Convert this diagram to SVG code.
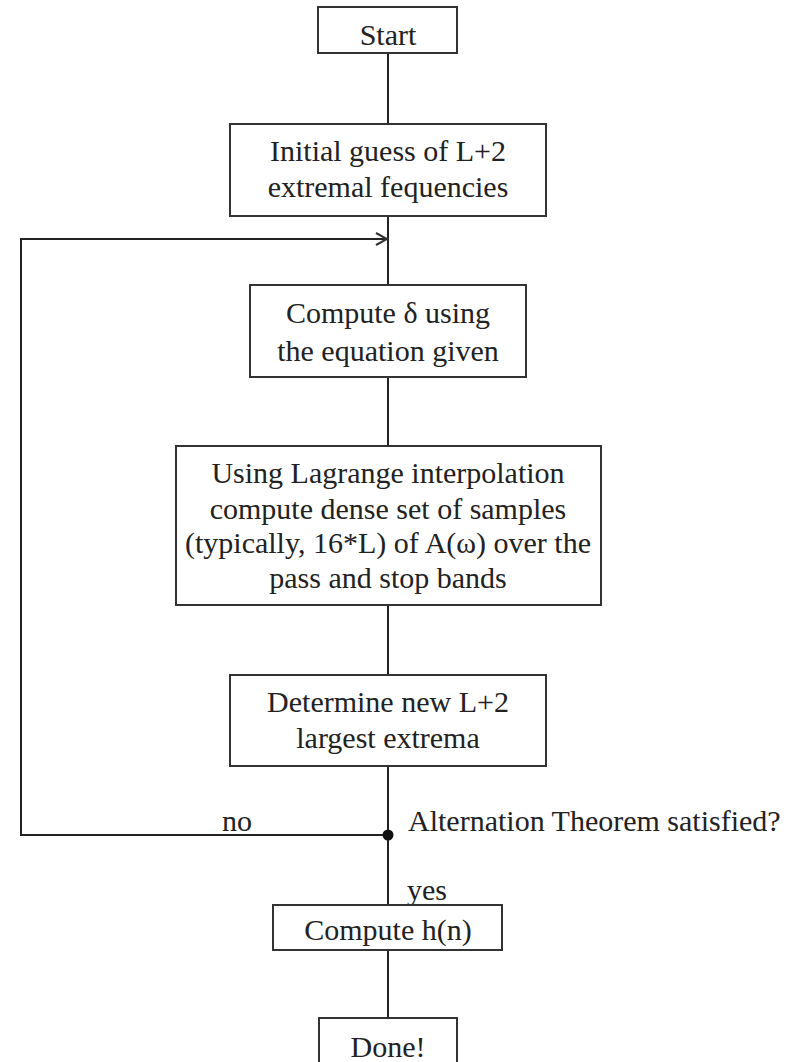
<svg xmlns="http://www.w3.org/2000/svg" width="788" height="1062" viewBox="0 0 788 1062">
<defs>
<style>
.box{fill:#fff;stroke:#333;stroke-width:2}
.ln{fill:none;stroke:#222;stroke-width:2}
.t{font-family:"Liberation Serif","Times New Roman",serif;font-size:30px;fill:#222;text-anchor:middle}
.l{font-family:"Liberation Serif","Times New Roman",serif;font-size:30px;fill:#222}
</style>
<marker id="arr" markerWidth="14" markerHeight="14" refX="12" refY="7" orient="auto" markerUnits="userSpaceOnUse">
<path d="M1,1 L12,7 L1,13" fill="none" stroke="#333" stroke-width="2"/>
</marker>
</defs>
<rect width="788" height="1062" fill="#fff"/>
<g id="connectors">
<line class="ln" x1="388" y1="53" x2="388" y2="124"/>
<line class="ln" x1="388" y1="216" x2="388" y2="285"/>
<line class="ln" x1="388" y1="377" x2="388" y2="446"/>
<line class="ln" x1="388" y1="605" x2="388" y2="675"/>
<line class="ln" x1="388" y1="766" x2="388" y2="905"/>
<line class="ln" x1="388" y1="950" x2="388" y2="1018"/>
<polyline class="ln" points="388,835 21,835 21,239 387,239" marker-end="url(#arr)"/>
<circle cx="388" cy="835" r="5.5" fill="#111"/>
<text class="l" x="222" y="831">no</text>
<text class="l" x="408" y="831">Alternation Theorem satisfied?</text>
<text class="l" x="407" y="900">yes</text>
</g>
<g id="start">
<rect class="box" x="318" y="7" width="139" height="46"/>
<text class="t" x="388" y="45">Start</text>
</g>
<g id="initial">
<rect class="box" x="230" y="124" width="316" height="92"/>
<text class="t" x="388" y="161">Initial guess of L+2</text>
<text class="t" x="388" y="197">extremal fequencies</text>
</g>
<g id="compute-delta">
<rect class="box" x="250" y="285" width="276" height="92"/>
<text class="t" x="388" y="323">Compute δ using</text>
<text class="t" x="388" y="361">the equation given</text>
</g>
<g id="lagrange">
<rect class="box" x="176" y="446" width="425" height="159"/>
<text class="t" x="388" y="483">Using Lagrange interpolation</text>
<text class="t" x="388" y="519">compute dense set of samples</text>
<text class="t" x="388" y="553">(typically, 16*L) of A(ω) over the</text>
<text class="t" x="388" y="588">pass and stop bands</text>
</g>
<g id="determine">
<rect class="box" x="230" y="675" width="316" height="91"/>
<text class="t" x="388" y="712">Determine new L+2</text>
<text class="t" x="388" y="748">largest extrema</text>
</g>
<g id="compute-h">
<rect class="box" x="273" y="905" width="229" height="45"/>
<text class="t" x="388" y="940">Compute h(n)</text>
</g>
<g id="done">
<rect class="box" x="319" y="1018" width="138" height="60"/>
<text class="t" x="388" y="1057">Done!</text>
</g>
</svg>
